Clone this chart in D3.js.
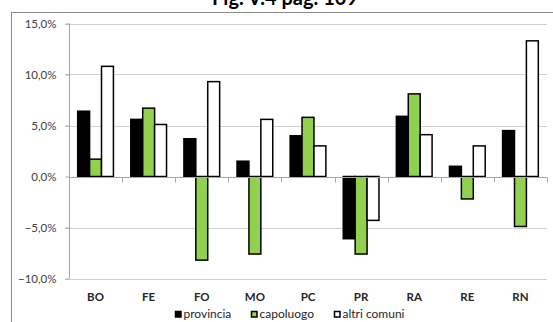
<!DOCTYPE html>
<html>
<head>
<meta charset="utf-8">
<script src="https://cdn.jsdelivr.net/npm/d3@7"></script>
<style>
  html, body { margin: 0; padding: 0; background: #fff; }
  svg { display: block; font-family: Lato, "Open Sans", sans-serif; }
</style>
</head>
<body>
<svg id="chart" width="553" height="322"></svg>
<script>
// Variazione percentuale per provincia: totale, capoluogo, altri comuni
const categories = ["BO", "FE", "FO", "MO", "PC", "PR", "RA", "RE", "RN"];
const seriesNames = ["provincia", "capoluogo", "altri comuni"];
const provincia   = [6.4, 5.6, 3.7, 1.5, 4.0, -6.1, 5.9, 1.0, 4.5];
const capoluogo   = [1.7, 6.7, -8.2, -7.6, 5.8, -7.6, 8.1, -2.2, -4.9];
const altriComuni = [10.8, 5.1, 9.3, 5.6, 3.0, -4.3, 4.1, 3.0, 13.3];
const yTicks = [-10, -5, 0, 5, 10, 15];
const seriesColors = ["#000000", "#92d050", "#ffffff"];
const title = "Fig. V.4 pag. 109";

const series = [provincia, capoluogo, altriComuni];
const svg = d3.select("#chart");

const plot = { left: 69, right: 547, top: 23.5, bottom: 278.5 };

const x = d3.scaleBand().domain(categories).range([plot.left, plot.right]).paddingInner(0).paddingOuter(0);
const xInner = d3.scaleBand().domain(seriesNames).range([0, x.bandwidth()]).paddingInner(0).paddingOuter(0.73);
const y = d3.scaleLinear().domain([-10, 15]).range([plot.bottom, plot.top]);

const fmt = v => d3.format(".1f")(v).replace(".", ",") + "%";

// outer frame
svg.append("rect")
  .attr("x", 11.5).attr("y", 12.5).attr("width", 560).attr("height", 330)
  .attr("fill", "none").attr("stroke", "#8c8c8c").attr("stroke-width", 1);

// title
svg.append("text")
  .attr("x", 285).attr("y", 4.5)
  .attr("text-anchor", "middle")
  .attr("font-weight", "bold").attr("font-size", 20)
  .attr("fill", "#000")
  .text(title);

// gridlines
svg.append("g").selectAll("line").data(yTicks.filter(d => d !== 0)).join("line")
  .attr("x1", plot.left - 4).attr("x2", plot.right)
  .attr("y1", d => Math.round(y(d)) + 0.5).attr("y2", d => Math.round(y(d)) + 0.5)
  .attr("stroke", "#d0d0d0").attr("stroke-width", 1);

// y axis
const yAxis = d3.axisLeft(y).tickValues(yTicks).tickFormat(fmt).tickSize(4).tickPadding(9);
const gy = svg.append("g").attr("transform", `translate(${plot.left + 0.5},0)`).call(yAxis);
gy.select(".domain").attr("stroke", "#a6a6a6").attr("d", `M-0,${plot.top}V${plot.bottom}`);
gy.selectAll(".tick line").attr("stroke", "#a6a6a6");
gy.selectAll(".tick text").attr("font-size", 11.5).attr("fill", "#404040")
  .attr("font-family", "Lato, sans-serif");

// bars
const groups = svg.append("g").selectAll("g").data(categories).join("g")
  .attr("transform", d => `translate(${x(d)},0)`);
groups.selectAll("rect")
  .data((c, i) => seriesNames.map((s, j) => ({ s, j, v: series[j][i] })))
  .join("rect")
  .attr("x", d => xInner(d.s))
  .attr("width", xInner.bandwidth())
  .attr("y", d => y(Math.max(0, d.v)))
  .attr("height", d => Math.abs(y(d.v) - y(0)))
  .attr("fill", d => seriesColors[d.j])
  .attr("stroke", "#000").attr("stroke-width", 1.5);

// zero line with category ticks
const zeroY = Math.round(y(0)) + 0.5;
svg.append("line")
  .attr("x1", plot.left).attr("x2", plot.right)
  .attr("y1", zeroY).attr("y2", zeroY)
  .attr("stroke", "#a6a6a6");
const bounds = categories.map(c => x(c)).concat([plot.right]);
svg.append("g").selectAll("line").data(bounds).join("line")
  .attr("x1", d => Math.round(d) + 0.5).attr("x2", d => Math.round(d) + 0.5)
  .attr("y1", zeroY).attr("y2", zeroY + 5)
  .attr("stroke", "#a6a6a6");
// bars above the zero line
groups.raise();

// category labels
svg.append("g").selectAll("text").data(categories).join("text")
  .attr("x", d => x(d) + x.bandwidth() / 2)
  .attr("y", 301)
  .attr("text-anchor", "middle")
  .attr("font-weight", "bold").attr("font-size", 11.5)
  .attr("fill", "#262626")
  .text(d => d);

// legend
const legendX = [175, 251, 334];
const leg = svg.append("g").selectAll("g").data(seriesNames).join("g")
  .attr("transform", (d, i) => `translate(${legendX[i]},311)`);
leg.append("rect")
  .attr("x", 0.5).attr("y", 0.5).attr("width", 5.5).attr("height", 5.5)
  .attr("fill", (d, i) => seriesColors[i])
  .attr("stroke", "#000").attr("stroke-width", 1.5);
leg.append("text")
  .attr("x", 8.5).attr("y", 7)
  .attr("font-size", 12).attr("fill", "#262626")
  .text(d => d);
</script>
</body>
</html>
